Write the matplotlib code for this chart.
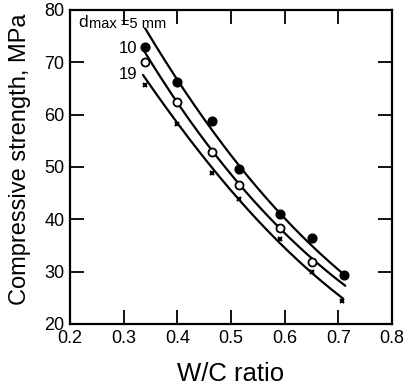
import numpy as np
import matplotlib
matplotlib.use("Agg")
import matplotlib.pyplot as plt

plt.rcParams['font.family'] = ['Liberation Sans', 'DejaVu Sans']

# measured points
wc_5 = [0.339, 0.399, 0.465, 0.515, 0.592, 0.651, 0.710]
fc_5 = [73.0, 66.3, 58.7, 49.7, 41.1, 36.5, 29.4]
wc_10 = [0.339, 0.399, 0.465, 0.515, 0.591, 0.651]
fc_10 = [70.0, 62.5, 52.9, 46.6, 38.4, 31.9]
wc_19 = [0.339, 0.399, 0.465, 0.514, 0.591, 0.651, 0.707]
fc_19 = [65.7, 58.2, 48.9, 43.9, 36.3, 30.0, 24.3]

# fitted curves
curve_5_x = [0.340, 0.400, 0.517, 0.591, 0.711]
curve_5_y = [75.8, 67.7, 49.8, 41.0, 29.5]
curve_10_x = [0.337, 0.400, 0.498, 0.591, 0.650, 0.713]
curve_10_y = [72.0, 63.0, 48.4, 38.4, 32.6, 27.3]
curve_19_x = [0.336, 0.400, 0.498, 0.591, 0.650, 0.709]
curve_19_y = [67.9, 58.3, 45.0, 36.2, 29.8, 24.7]

x_ticks = [0.2, 0.3, 0.4, 0.5, 0.6, 0.7, 0.8]
y_ticks = [20, 30, 40, 50, 60, 70, 80]

fig = plt.figure(figsize=(4.04, 3.86), dpi=100)
ax = fig.add_axes([70/404, 1-324/386, 322/404, 314/386])

for cx, cy in [(curve_5_x, curve_5_y), (curve_10_x, curve_10_y), (curve_19_x, curve_19_y)]:
    coef = np.polyfit(cx, np.log(cy), 2)
    xs = np.linspace(min(cx), max(cx), 200)
    ax.plot(xs, np.exp(np.polyval(coef, xs)), color='black', lw=1.6, solid_capstyle='round')

ax.plot(wc_5, fc_5, 'o', color='black', ms=6.3, zorder=3)
ax.plot(wc_10, fc_10, 'o', mfc='white', mec='black', mew=1.3, ms=5.8, zorder=3)
ax.plot(wc_19, fc_19, 'x', color='black', ms=3, mew=1.5, zorder=3)

ax.set_xlim(0.2, 0.8)
ax.set_ylim(20, 80)
ax.set_xticks(x_ticks)
ax.set_xticklabels([f"{v:.1f}" for v in x_ticks])
ax.set_yticks(y_ticks)
ax.tick_params(direction='in', length=10, width=1.3, top=True, right=True,
               labelsize=13, pad=4)
for s in ax.spines.values():
    s.set_linewidth(1.6)

ax.set_xlabel('W/C ratio', fontsize=18.5, labelpad=11)
ax.set_ylabel('Compressive strength, MPa', fontsize=17)
ax.yaxis.set_label_coords(-0.12, 0.525)

ax.text(0.2149, 76.8, 'd', fontsize=12.5, va='baseline', ha='left')
ax.text(0.2345, 76.5, 'max =5 mm', fontsize=10.5, va='baseline', ha='left')
ax.text(0.325, 72.6, '10', fontsize=12, va='center', ha='right')
ax.text(0.325, 67.6, '19', fontsize=12, va='center', ha='right')

fig.savefig('out.png', dpi=100)
